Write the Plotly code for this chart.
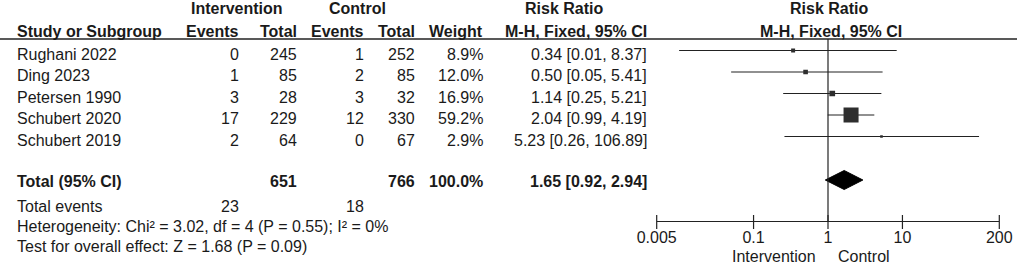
import math
import plotly.graph_objects as go

# ---- data ----
studies = ["Rughani 2022", "Ding 2023", "Petersen 1990", "Schubert 2020", "Schubert 2019"]
int_events = [0, 1, 3, 17, 2]
int_total = [245, 85, 28, 229, 64]
ctl_events = [1, 2, 3, 12, 0]
ctl_total = [252, 85, 32, 330, 67]
weight = [8.9, 12.0, 16.9, 59.2, 2.9]
rr = [0.34, 0.50, 1.14, 2.04, 5.23]
rr_lo = [0.01, 0.05, 0.25, 0.99, 0.26]
rr_hi = [8.37, 5.41, 5.21, 4.19, 106.89]
total_label = "Total (95% CI)"
total_int_n = 651
total_ctl_n = 766
total_weight = 100.0
total_rr, total_lo, total_hi = 1.65, 0.92, 2.94
total_int_events = 23
total_ctl_events = 18
heterogeneity = "Heterogeneity: Chi² = 3.02, df = 4 (P = 0.55); I² = 0%"
overall = "Test for overall effect: Z = 1.68 (P = 0.09)"
tick_vals = [0.005, 0.1, 1, 10, 200]
tick_text = ["0.005", "0.1", "1", "10", "200"]

# ---- layout constants (pixels) ----
W, H = 1017, 264
FONT = "Arial, Liberation Sans, sans-serif"
TXT = "#1a1a1a"
LINE = "#222222"
MARK = "#2e2e2e"
row0, row_step = 50.5, 21.5
text_off = 3.5
total_y = 180
axis_y = 221
x_left, x_right = 656.7, 999.3

row_y = [row0 + row_step * i for i in range(len(studies))]

fig = go.Figure()
ann = []


def txt(px, py, s, anchor="left", bold=False, size=16):
    ann.append(dict(
        x=px / W, y=py, xref="paper", yref="y", text=f"<b>{s}</b>" if bold else s,
        showarrow=False, xanchor=anchor, yanchor="middle",
        font=dict(family=FONT, size=size, color=TXT),
    ))


# column right edges
c_ie, c_it, c_ce, c_ct, c_w, c_ci = 241, 299, 366, 417, 485, 649

# headers
txt(237, 8.5, "Intervention", "center", True)
txt(357, 8.5, "Control", "center", True)
txt(564, 8.5, "Risk Ratio", "center", True)
txt(829, 8.5, "Risk Ratio", "center", True)
txt(15, 31, "Study or Subgroup", "left", True)
txt(c_ie, 31, "Events", "right", True)
txt(c_it, 31, "Total", "right", True)
txt(c_ce, 31, "Events", "right", True)
txt(c_ct, 31, "Total", "right", True)
txt(c_w, 31, "Weight", "right", True)
txt(c_ci, 31, "M-H, Fixed, 95% CI", "right", True)
txt(831, 31, "M-H, Fixed, 95% CI", "center", True)

# study rows
for i, s in enumerate(studies):
    y = row_y[i] + text_off
    txt(15, y, s)
    txt(c_ie, y, str(int_events[i]), "right")
    txt(c_it, y, str(int_total[i]), "right")
    txt(c_ce, y, str(ctl_events[i]), "right")
    txt(c_ct, y, str(ctl_total[i]), "right")
    txt(c_w, y, f"{weight[i]:.1f}%", "right")
    txt(c_ci, y, f"{rr[i]:.2f} [{rr_lo[i]:.2f}, {rr_hi[i]:.2f}]", "right")

# total row
ty = total_y + 1.5
txt(15, ty, total_label, "left", True)
txt(c_it, ty, str(total_int_n), "right", True)
txt(c_ct, ty, str(total_ctl_n), "right", True)
txt(c_w, ty, f"{total_weight:.1f}%", "right", True)
txt(c_ci, ty, f"{total_rr:.2f} [{total_lo:.2f}, {total_hi:.2f}]", "right", True)

txt(15, 206.5, "Total events")
txt(c_ie, 206.5, str(total_int_events), "right")
txt(c_ce, 206.5, str(total_ctl_events), "right")
txt(15, 226.5, heterogeneity)
txt(15, 246.5, overall)

# favours labels
txt(818, 256.5, "Intervention", "right")
txt(836, 256.5, "Control", "left")

# CI lines
for i in range(len(studies)):
    fig.add_trace(go.Scatter(
        x=[rr_lo[i], rr_hi[i]], y=[row_y[i], row_y[i]], mode="lines",
        line=dict(color=LINE, width=1.2), hoverinfo="skip", showlegend=False,
        cliponaxis=False,
    ))

# weighted squares
fig.add_trace(go.Scatter(
    x=rr, y=row_y, mode="markers", opacity=1,
    marker=dict(symbol="square", size=[2 + 0.22 * w for w in weight], color=MARK,
                opacity=1, line=dict(width=0)),
    showlegend=False, hoverinfo="skip",
))

# diamond
dh = 9.5
fig.add_trace(go.Scatter(
    x=[total_lo, total_rr, total_hi, total_rr, total_lo],
    y=[total_y, total_y - dh, total_y, total_y + dh, total_y],
    mode="lines", fill="toself", fillcolor="#000000",
    line=dict(color="#000000", width=1), showlegend=False, hoverinfo="skip",
))

# axis ticks crossing the axis line
fig.add_trace(go.Scatter(
    x=tick_vals, y=[axis_y + 1] * len(tick_vals), mode="markers",
    marker=dict(symbol="line-ns", size=10, line=dict(color=LINE, width=1.2)),
    showlegend=False, hoverinfo="skip", cliponaxis=False,
))

shapes = [
    dict(type="line", xref="paper", yref="y", x0=0, x1=1, y0=39, y1=39,
         line=dict(color=LINE, width=1.6)),
    dict(type="line", xref="x", yref="y", x0=1, x1=1, y0=39, y1=axis_y,
         line=dict(color=LINE, width=1.2)),
]

fig.update_layout(
    width=W, height=H, autosize=False,
    margin=dict(l=0, r=0, t=0, b=0, pad=0, autoexpand=False),
    paper_bgcolor="white", plot_bgcolor="rgba(0,0,0,0)",
    annotations=ann, shapes=shapes,
    xaxis=dict(
        type="log", range=[math.log10(tick_vals[0]), math.log10(tick_vals[-1])],
        domain=[x_left / W, x_right / W], anchor="free", position=(H - axis_y) / H,
        tickvals=tick_vals, ticktext=tick_text, ticks="", ticklabelstandoff=2,
        showline=True, linecolor=LINE, linewidth=1.2,
        showgrid=False, zeroline=False, automargin=False,
        tickfont=dict(family=FONT, size=16, color=TXT),
    ),
    yaxis=dict(range=[H, 0], domain=[0, 1], visible=False, showgrid=False,
               zeroline=False, automargin=False),
)

fig.write_html("out.html", config={"displayModeBar": False},
               post_script="document.body.style.margin='0';")
